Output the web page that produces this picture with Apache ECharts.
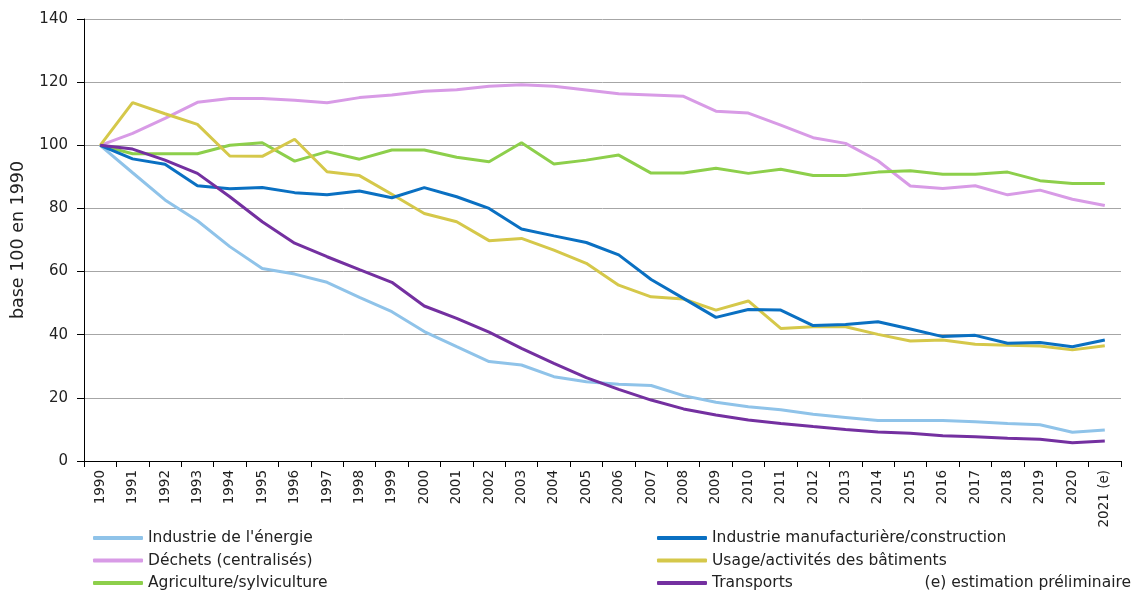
<!DOCTYPE html>
<html>
<head>
<meta charset="utf-8">
<script src="https://cdn.jsdelivr.net/npm/echarts@6/dist/echarts.min.js"></script>
<style>
html,body{margin:0;padding:0;background:#fff;}
#chart{width:1137px;height:595px;}
</style>
</head>
<body>
<div id="chart"></div>
<script>
const years = ['1990','1991','1992','1993','1994','1995','1996','1997','1998','1999','2000','2001','2002','2003','2004','2005','2006','2007','2008','2009','2010','2011','2012','2013','2014','2015','2016','2017','2018','2019','2020','2021 (e)'];
const yTicks = [0, 20, 40, 60, 80, 100, 120, 140];

const energie = [100, 91.3, 82.7, 76.1, 67.9, 61.0, 59.2, 56.6, 51.8, 47.3, 41.0, 36.2, 31.5, 30.4, 26.7, 25.1, 24.3, 23.9, 20.7, 18.6, 17.2, 16.2, 14.8, 13.8, 12.8, 12.8, 12.8, 12.4, 11.9, 11.5, 9.1, 9.8];
const manuf = [100, 95.7, 94.0, 87.2, 86.2, 86.6, 85.0, 84.3, 85.5, 83.4, 86.6, 83.7, 80.0, 73.5, 71.3, 69.2, 65.3, 57.5, 51.5, 45.5, 48.0, 47.8, 42.9, 43.2, 44.1, 41.8, 39.4, 39.8, 37.3, 37.5, 36.2, 38.3];
const dechets = [100, 103.8, 108.5, 113.6, 114.8, 114.8, 114.3, 113.5, 115.1, 115.9, 117.1, 117.6, 118.7, 119.2, 118.7, 117.5, 116.3, 115.9, 115.5, 110.8, 110.2, 106.4, 102.4, 100.6, 95.1, 87.1, 86.3, 87.2, 84.3, 85.8, 82.9, 80.9];
const batiments = [100, 113.5, 110.0, 106.6, 96.6, 96.5, 101.9, 91.6, 90.4, 84.5, 78.4, 75.8, 69.8, 70.5, 66.8, 62.6, 55.7, 52.0, 51.3, 47.8, 50.7, 42.0, 42.5, 42.5, 40.1, 38.0, 38.3, 37.0, 36.7, 36.4, 35.2, 36.5];
const agri = [100, 97.3, 97.3, 97.3, 100.0, 100.8, 95.0, 98.0, 95.6, 98.5, 98.5, 96.2, 94.8, 100.8, 94.1, 95.3, 96.9, 91.2, 91.2, 92.7, 91.1, 92.4, 90.4, 90.4, 91.5, 91.9, 90.8, 90.8, 91.5, 88.8, 87.9, 87.9];
const transports = [100, 98.8, 95.3, 91.1, 83.7, 75.8, 69.0, 64.7, 60.6, 56.6, 49.1, 45.2, 40.8, 35.7, 30.9, 26.4, 22.7, 19.3, 16.5, 14.6, 13.0, 11.9, 10.9, 10.0, 9.2, 8.8, 8.0, 7.7, 7.2, 6.9, 5.8, 6.3];

const names = {
  energie: "Industrie de l'énergie",
  manuf: 'Industrie manufacturière/construction',
  dechets: 'Déchets (centralisés)',
  batiments: 'Usage/activités des bâtiments',
  agri: 'Agriculture/sylviculture',
  transports: 'Transports'
};
const colors = {
  energie: '#8fc3e9',
  manuf: '#0a70c2',
  dechets: '#d89be6',
  batiments: '#d5c84a',
  agri: '#8dcf4b',
  transports: '#7430a0'
};
const FONT = 'DejaVu Sans';

function line(key, data) {
  return {
    name: names[key], type: 'line', data: data,
    symbol: 'none', smooth: false,
    lineStyle: { color: colors[key], width: 3 },
    itemStyle: { color: colors[key] },
    emphasis: { disabled: true }
  };
}

const chart = echarts.init(document.getElementById('chart'));
const legendBase = {
  orient: 'vertical', icon: 'roundRect', itemWidth: 50, itemHeight: 4,
  itemGap: 6.5, padding: 0,
  textStyle: { fontFamily: FONT, fontSize: 15.5, color: '#222' }
};
chart.setOption({
  animation: false,
  backgroundColor: '#fff',
  grid: { left: 84, right: 16, top: 19, bottom: 134, containLabel: false },
  xAxis: {
    type: 'category', data: years, boundaryGap: true,
    axisLine: { lineStyle: { color: '#000', width: 1 } },
    axisTick: { show: true, interval: 0, length: 6, lineStyle: { color: '#000' } },
    axisLabel: { interval: 0, rotate: 90, fontFamily: FONT, fontSize: 13.5, color: '#222', margin: 9 },
    splitLine: { show: false }
  },
  yAxis: {
    type: 'value', min: yTicks[0], max: yTicks[yTicks.length - 1], interval: 20,
    name: 'base 100 en 1990', nameLocation: 'middle', nameGap: 57,
    nameTextStyle: { fontFamily: FONT, fontSize: 17.5, color: '#222' },
    axisLine: { show: true, lineStyle: { color: '#000', width: 1 } },
    axisTick: { show: true, length: 7, lineStyle: { color: '#000' } },
    axisLabel: { fontFamily: FONT, fontSize: 15, color: '#222', margin: 16 },
    splitLine: { lineStyle: { color: '#a6a6a6', width: 1 } }
  },
  legend: [
    Object.assign({}, legendBase, { left: 93, top: 530, data: [names.energie, names.dechets, names.agri] }),
    Object.assign({}, legendBase, { left: 657, top: 530, data: [names.manuf, names.batiments, names.transports] })
  ],
  graphic: [{
    type: 'text', right: 6, top: 575,
    style: { text: '(e) estimation préliminaire', font: '15.5px "DejaVu Sans"', fill: '#222' }
  }],
  series: [
    line('energie', energie),
    line('dechets', dechets),
    line('agri', agri),
    line('batiments', batiments),
    line('manuf', manuf),
    line('transports', transports)
  ]
});
</script>
</body>
</html>
